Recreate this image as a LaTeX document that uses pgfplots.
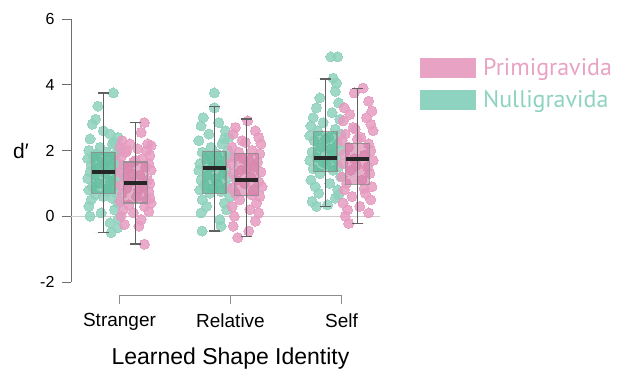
\documentclass[border=0pt]{standalone}
\usepackage{pgfplots}
\pgfplotsset{compat=1.18}
\usepackage{pgfplotstable}
\usepgfplotslibrary{statistics}
\usepackage{fontspec}
\setmainfont{Liberation Sans}
\newfontfamily\legfont{PT Sans}
\definecolor{gpt}{HTML}{8ED1BC}
\definecolor{ppt}{HTML}{E69BC0}
\definecolor{gbox}{HTML}{4DB38E}
\definecolor{pbox}{HTML}{D27AA4}
\definecolor{gleg}{HTML}{8ED3BF}
\definecolor{pleg}{HTML}{E8A3C4}
\definecolor{axgray}{HTML}{6E6E6E}

% dx = horizontal jitter from box centre, y = d'
\pgfplotstableread{
dx y
0.09 3.75
-0.05 3.35
-0.07 2.95
-0.10 2.80
0.00 2.60
0.06 2.50
0.13 2.40
-0.12 2.35
0.08 2.20
-0.03 2.10
0.14 2.05
-0.13 2.00
0.03 1.95
0.11 1.90
-0.09 1.85
0.05 1.80
-0.14 1.75
0.10 1.70
-0.01 1.65
0.13 1.60
-0.11 1.55
0.07 1.50
-0.06 1.45
0.12 1.40
-0.12 1.35
0.02 1.30
-0.08 1.25
0.14 1.20
-0.14 1.15
0.09 1.10
-0.04 1.00
0.11 0.95
-0.10 0.90
0.04 0.85
-0.13 0.80
0.12 0.70
-0.07 0.65
0.08 0.55
-0.11 0.50
0.13 0.40
-0.13 0.30
0.10 0.20
-0.02 0.10
-0.12 0.00
0.14 -0.05
0.06 -0.20
0.13 -0.35
0.07 -0.50
0.01 1.60
-0.09 1.80
0.10 2.25
0.06 1.05
0.00 0.60
0.03 0.75
-0.06 1.90
}\gStr
\pgfplotstableread{
dx y
0.08 2.85
0.05 2.55
-0.12 2.30
0.11 2.20
-0.05 2.20
0.14 2.15
-0.14 2.10
0.02 2.05
0.10 2.00
-0.09 1.95
0.13 1.85
-0.13 1.80
0.06 1.75
-0.02 1.65
0.12 1.60
-0.11 1.55
0.09 1.50
-0.07 1.45
0.14 1.40
-0.14 1.35
0.04 1.25
-0.10 1.20
0.11 1.10
-0.04 1.05
0.13 1.00
-0.13 0.95
0.07 0.90
-0.08 0.85
0.12 0.75
-0.12 0.70
0.01 0.60
0.10 0.50
-0.14 0.45
0.14 0.40
-0.06 0.35
0.08 0.30
-0.11 0.20
0.12 0.15
-0.02 0.10
-0.13 0.00
0.05 -0.10
-0.10 -0.25
0.03 -0.30
0.08 -0.85
0.13 0.55
-0.03 1.30
0.00 1.70
0.03 0.80
-0.08 2.00
}\pStr
\pgfplotstableread{
dx y
0.00 3.75
0.00 3.30
-0.10 3.00
0.04 2.85
-0.12 2.75
0.10 2.60
-0.05 2.50
0.13 2.40
-0.14 2.30
0.07 2.20
-0.03 2.10
0.12 2.00
-0.11 1.95
0.02 1.90
0.14 1.80
-0.08 1.75
0.09 1.70
-0.13 1.60
0.05 1.55
-0.02 1.50
0.11 1.45
-0.14 1.40
0.08 1.30
-0.06 1.25
0.13 1.20
-0.12 1.10
0.03 1.00
-0.09 0.95
0.12 0.90
-0.13 0.80
0.06 0.75
-0.04 0.70
0.14 0.60
-0.11 0.50
0.09 0.40
-0.07 0.30
0.11 0.20
-0.12 0.10
0.05 -0.10
0.06 -0.30
-0.11 -0.45
0.00 1.65
-0.05 1.85
0.09 2.35
0.01 1.15
-0.01 0.85
}\gRel
\pgfplotstableread{
dx y
0.01 2.90
-0.10 2.70
0.08 2.60
-0.12 2.50
0.11 2.40
-0.04 2.30
0.13 2.20
-0.13 2.10
0.05 2.00
-0.07 1.95
0.12 1.90
-0.11 1.80
0.02 1.70
0.10 1.65
-0.14 1.60
0.07 1.50
-0.05 1.40
0.13 1.35
-0.12 1.30
0.04 1.20
-0.09 1.10
0.11 1.05
-0.02 1.00
0.14 0.90
-0.13 0.85
0.06 0.80
-0.10 0.70
0.12 0.60
-0.06 0.50
0.09 0.40
-0.13 0.30
0.03 0.20
0.11 0.10
-0.11 0.00
0.08 -0.15
-0.12 -0.30
0.02 -0.45
-0.08 -0.65
-0.03 1.75
0.00 1.45
0.05 0.65
-0.01 2.25
}\pRel
\pgfplotstableread{
dx y
0.05 4.85
0.11 4.85
0.07 4.20
0.10 4.05
0.09 3.80
-0.05 3.60
0.12 3.45
-0.08 3.30
0.06 3.15
-0.11 3.00
0.13 2.95
-0.02 2.85
-0.13 2.75
0.09 2.65
-0.07 2.60
0.14 2.50
-0.14 2.45
0.03 2.40
-0.10 2.30
0.11 2.20
-0.04 2.10
0.13 2.00
-0.12 1.95
0.06 1.90
-0.08 1.80
0.10 1.75
-0.14 1.70
0.01 1.60
0.12 1.50
-0.11 1.45
0.07 1.40
-0.05 1.30
0.14 1.20
-0.13 1.10
0.04 1.00
-0.09 0.90
0.11 0.80
-0.06 0.70
0.09 0.55
-0.12 0.45
0.02 0.35
-0.08 0.30
0.00 2.35
-0.02 1.65
0.04 2.05
0.12 0.65
}\gSelf
\pgfplotstableread{
dx y
0.05 3.90
-0.03 3.75
0.10 3.50
-0.12 3.30
0.13 3.20
-0.07 3.10
0.08 3.00
-0.13 2.90
0.12 2.80
-0.04 2.70
0.14 2.60
-0.11 2.50
0.03 2.40
-0.14 2.30
0.10 2.20
-0.08 2.10
0.12 2.00
-0.12 1.90
0.06 1.85
-0.03 1.75
0.14 1.70
-0.13 1.60
0.09 1.50
-0.06 1.40
0.11 1.30
-0.14 1.20
0.04 1.10
-0.10 1.00
0.13 0.90
-0.12 0.80
0.07 0.70
-0.05 0.60
0.12 0.50
-0.13 0.40
0.02 0.30
-0.09 0.20
0.10 0.10
-0.11 0.00
-0.08 -0.22
0.00 2.35
-0.01 1.55
0.06 0.85
-0.02 2.65
}\pSelf

\pgfplotsset{
  pts/.style={only marks, mark=*, mark size=5pt, forget plot, color=#1,
    mark options={draw=#1, line width=0pt, fill=#1, opacity=0.85}},
  whisk/.style={forget plot, draw=black!62, line width=1.4pt, mark=-, mark size=5.5pt,
    mark options={draw=black!62, line width=1.4pt}},
  med/.style={forget plot, draw=black!85, line width=4pt, mark=none},
  bx/.style={forget plot, fill=#1, fill opacity=0.6, draw=black!45, draw opacity=0.8, line width=1.2pt,
    boxplot/draw direction=y,
    boxplot/every whisker/.style={draw=none},
    boxplot/every median/.style={draw=none}},
}

\begin{document}
\begin{tikzpicture}
\path[use as bounding box] (0pt,0pt) rectangle (617pt,369pt);
\begin{axis}[
  at={(71pt,87pt)}, anchor=south west,
  x=111pt, y=32.875pt,
  xmin=0.5635, xmax=3.347, ymin=-2, ymax=6,
  axis y line*=left, axis x line=none,
  clip=false, clip marker paths=true,
  ytick={-2,0,2,4,6}, yticklabels={-2,0,2,4,6},
  tick align=outside, major tick length=9pt,
  every tick/.style={draw=axgray, line width=0.8pt},
  y axis line style={draw=axgray, line width=0.8pt},
  yticklabel style={font=\fontsize{16}{16}\selectfont, xshift=-4pt},
  ylabel={d′},
  ylabel style={at={(axis description cs:0,0.5)}, anchor=center, rotate=-90, xshift=-50pt,
    font=\fontsize{21}{21}\selectfont},
  legend image code/.code={\fill[#1] (0pt,-10pt) rectangle (56pt,10pt);},
  legend style={at={(axis description cs:1.1294,0.753)}, anchor=west, draw=none, fill=none,
    inner sep=0pt, row sep=12pt, column sep=7pt,
    font=\legfont\fontsize{24}{24}\selectfont, nodes={inner sep=0pt}},
  legend cell align=left,
]
\addlegendimage{fill=pleg, draw=none}
\addlegendentry{\textcolor{pleg}{Primigravida}}
\addlegendimage{fill=gleg, draw=none}
\addlegendentry{\textcolor{gleg}{Nulligravida}}

\addplot[forget plot, draw=black!20, line width=1pt] coordinates {(0.5635,0) (3.347,0)};

% points
\addplot[pts=gpt] table[x expr=\thisrow{dx}+0.855, y=y] {\gStr};
\addplot[pts=ppt] table[x expr=\thisrow{dx}+1.145, y=y] {\pStr};
\addplot[pts=gpt] table[x expr=\thisrow{dx}+1.855, y=y] {\gRel};
\addplot[pts=ppt] table[x expr=\thisrow{dx}+2.145, y=y] {\pRel};
\addplot[pts=gpt] table[x expr=\thisrow{dx}+2.855, y=y] {\gSelf};
\addplot[pts=ppt] table[x expr=\thisrow{dx}+3.145, y=y] {\pSelf};

% boxes
\addplot[bx=gbox, boxplot prepared={draw position=0.855, lower whisker=-0.5, lower quartile=0.7, median=1.35, upper quartile=1.95, upper whisker=3.75, box extend=0.21}] coordinates {};
\addplot[bx=pbox, boxplot prepared={draw position=1.145, lower whisker=-0.85, lower quartile=0.4, median=1.0, upper quartile=1.65, upper whisker=2.85, box extend=0.21}] coordinates {};
\addplot[bx=gbox, boxplot prepared={draw position=1.855, lower whisker=-0.45, lower quartile=0.7, median=1.48, upper quartile=1.98, upper whisker=3.33, box extend=0.21}] coordinates {};
\addplot[bx=pbox, boxplot prepared={draw position=2.145, lower whisker=-0.61, lower quartile=0.62, median=1.1, upper quartile=1.91, upper whisker=2.96, box extend=0.21}] coordinates {};
\addplot[bx=gbox, boxplot prepared={draw position=2.855, lower whisker=0.3, lower quartile=1.35, median=1.78, upper quartile=2.57, upper whisker=4.18, box extend=0.21}] coordinates {};
\addplot[bx=pbox, boxplot prepared={draw position=3.145, lower whisker=-0.22, lower quartile=0.97, median=1.73, upper quartile=2.22, upper whisker=3.89, box extend=0.21}] coordinates {};

% whiskers
\addplot[whisk] coordinates {(0.855,-0.5) (0.855,3.75)};
\addplot[whisk] coordinates {(1.145,-0.85) (1.145,2.85)};
\addplot[whisk] coordinates {(1.855,-0.45) (1.855,3.33)};
\addplot[whisk] coordinates {(2.145,-0.61) (2.145,2.96)};
\addplot[whisk] coordinates {(2.855,0.3) (2.855,4.18)};
\addplot[whisk] coordinates {(3.145,-0.22) (3.145,3.89)};

% medians
\addplot[med] coordinates {(0.75,1.35) (0.96,1.35)};
\addplot[med] coordinates {(1.04,1.0) (1.25,1.0)};
\addplot[med] coordinates {(1.75,1.48) (1.96,1.48)};
\addplot[med] coordinates {(2.04,1.1) (2.25,1.1)};
\addplot[med] coordinates {(2.75,1.78) (2.96,1.78)};
\addplot[med] coordinates {(3.04,1.73) (3.25,1.73)};
\end{axis}

\begin{axis}[
  at={(119.5pt,74pt)}, anchor=south west,
  x=111pt, y=10pt, xmin=1, xmax=3, ymin=0, ymax=1,
  axis x line*=bottom, axis y line=none,
  xtick={1,2,3}, xticklabels={Stranger,Relative,Self},
  tick align=outside, major tick length=9pt,
  every tick/.style={draw=black!45, line width=0.8pt},
  x axis line style={draw=black!45, line width=0.8pt, -},
  xticklabel style={font=\fontsize{19}{19}\selectfont, yshift=-6pt},
  xlabel={Learned Shape Identity},
  xlabel style={font=\fontsize{23}{23}\selectfont, yshift=-10pt},
]
\end{axis}
\end{tikzpicture}
\end{document}
